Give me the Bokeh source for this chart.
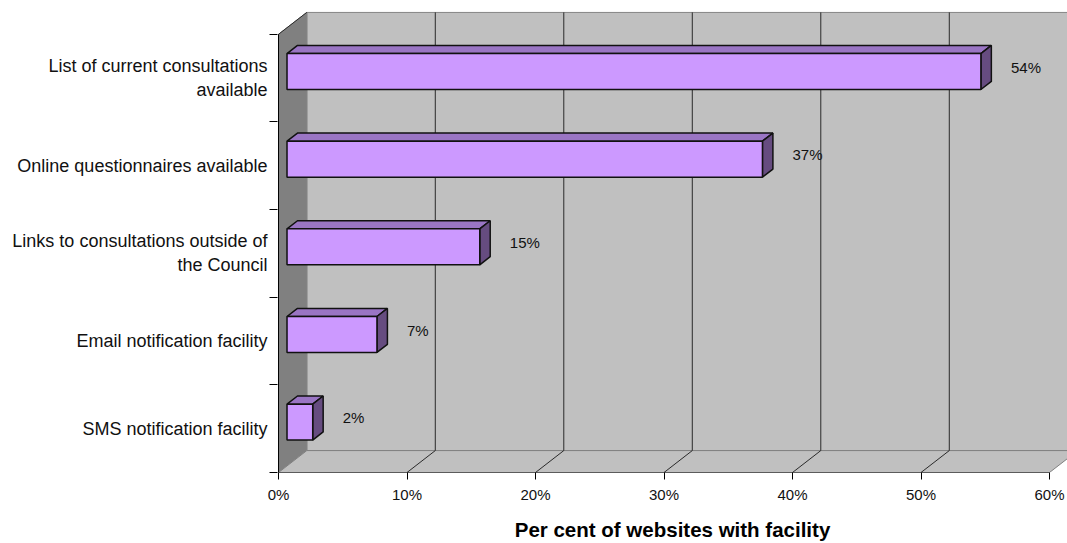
from bokeh.plotting import figure
from bokeh.models import Range1d, FixedTicker
from bokeh.core.properties import value
from bokeh.embed import file_html
from bokeh.resources import INLINE

# ---- data ----
categories = [
    "List of current consultations available",
    "Online questionnaires available",
    "Links to consultations outside of the Council",
    "Email notification facility",
    "SMS notification facility",
]
category_labels = [
    "List of current consultations\navailable",
    "Online questionnaires available",
    "Links to consultations outside of\nthe Council",
    "Email notification facility",
    "SMS notification facility",
]
values = [54, 37, 15, 7, 2]
value_labels = ["54%", "37%", "15%", "7%", "2%"]
x_ticks = [0, 10, 20, 30, 40, 50, 60]
x_tick_labels = ["0%", "10%", "20%", "30%", "40%", "50%", "60%"]
x_title = "Per cent of websites with facility"

# ---- style ----
FONT = "Liberation Sans"
DX, DY = 2.2, 0.25          # 3-D depth offset (x in %, y in category bands)
F0, F1 = 0.3, 0.67          # bar front/back depth fractions
BAR_H = 0.41
LABEL_GAP = 3.0
WALL = "#C0C0C0"
SIDE_WALL = "#808080"
GRID = "#2a2a2a"
BAR_FRONT = "#CC99FF"
BAR_TOP = "#9A75C4"
BAR_SIDE = "#664C80"
OUTLINE = "#111111"

n = len(categories)
xmax = x_ticks[-1]

p = figure(width=1067, height=543, output_backend="svg", toolbar_location=None,
           x_range=Range1d(-0.08, 61.4), y_range=Range1d(0, n + 0.26),
           min_border_left=277, min_border_right=0, min_border_top=11,
           min_border_bottom=70)
p.outline_line_color = None
p.xgrid.grid_line_color = None
p.ygrid.grid_line_color = None
p.background_fill_color = "white"
p.border_fill_color = "white"

# back wall
p.quad(left=DX, right=xmax + DX, bottom=DY, top=n + DY,
       fill_color=WALL, line_color=SIDE_WALL, line_width=1)
# left wall
p.patch(x=[0, DX, DX, 0], y=[0, DY, n + DY, n],
        fill_color=SIDE_WALL, line_color=SIDE_WALL, line_width=1)
p.segment(x0=[0], y0=[n], x1=[DX], y1=[n + DY], line_color=GRID, line_width=1)
# floor
p.patch(x=[0, xmax, xmax + DX, DX], y=[0, 0, DY, DY],
        fill_color=WALL, line_color=SIDE_WALL, line_width=1)

# back-wall gridlines
gx = [t + DX for t in x_ticks[1:]]
p.segment(x0=gx, y0=[DY] * len(gx), x1=gx, y1=[n + DY] * len(gx),
          line_color=GRID, line_width=1)
# floor diagonals
fx = x_ticks[1:-1]
p.segment(x0=fx, y0=[0] * len(fx), x1=[t + DX for t in fx], y1=[DY] * len(fx),
          line_color=GRID, line_width=1)
# front axis lines
p.segment(x0=[0, 0], y0=[0, 0], x1=[xmax, 0], y1=[0, n],
          line_color="black", line_width=1)

# bars
ox0, oy0 = F0 * DX, F0 * DY
ox1, oy1 = F1 * DX, F1 * DY
yc = [(n - 1 - i) + 0.5 for i in range(n)]
top_xs, top_ys, side_xs, side_ys = [], [], [], []
for v, c in zip(values, yc):
    yb0, yt0 = c - BAR_H / 2 + oy0, c + BAR_H / 2 + oy0
    yb1, yt1 = c - BAR_H / 2 + oy1, c + BAR_H / 2 + oy1
    top_xs.append([ox0, v + ox0, v + ox1, ox1])
    top_ys.append([yt0, yt0, yt1, yt1])
    side_xs.append([v + ox0, v + ox1, v + ox1, v + ox0])
    side_ys.append([yb0, yb1, yt1, yt0])
p.patches(xs=top_xs, ys=top_ys, fill_color=BAR_TOP, line_color=OUTLINE, line_width=1.5)
p.patches(xs=side_xs, ys=side_ys, fill_color=BAR_SIDE, line_color=OUTLINE, line_width=1.5)
p.quad(left=[ox0] * n, right=[v + ox0 for v in values],
       bottom=[c - BAR_H / 2 + oy0 for c in yc], top=[c + BAR_H / 2 + oy0 for c in yc],
       fill_color=BAR_FRONT, line_color=OUTLINE, line_width=1.5)

# value labels
p.text(x=[v + LABEL_GAP for v in values], y=[c + DY * 0.5 for c in yc], text=value_labels,
       text_font=value(FONT), text_font_size="15px", text_color="#111111",
       text_align="left", text_baseline="middle")

# x axis
xa = p.xaxis[0]
xa.ticker = FixedTicker(ticks=x_ticks)
xa.major_label_overrides = {t: l for t, l in zip(x_ticks, x_tick_labels)}
xa.axis_line_color = None
xa.major_tick_out = 7
xa.major_tick_in = 0
xa.major_tick_line_color = "black"
xa.minor_tick_line_color = None
xa.major_label_standoff = 6
xa.major_label_text_font = FONT
xa.major_label_text_font_size = "15px"
xa.major_label_text_color = "#111111"
xa.axis_label = x_title
xa.axis_label_text_font = FONT
xa.axis_label_text_font_size = "20.5px"
xa.axis_label_text_font_style = "bold"
xa.axis_label_text_color = "black"
xa.axis_label_standoff = 12

# y axis
ya = p.yaxis[0]
ya.ticker = FixedTicker(ticks=yc, minor_ticks=list(range(n + 1)))
ya.major_label_overrides = {c: l for c, l in zip(yc, category_labels)}
ya.axis_line_color = None
ya.major_tick_out = 0
ya.major_tick_in = 0
ya.major_tick_line_color = None
ya.minor_tick_out = 8
ya.minor_tick_in = 0
ya.minor_tick_line_color = "black"
ya.major_label_standoff = 2
ya.major_label_text_font = FONT
ya.major_label_text_font_size = "18px"
ya.major_label_text_color = "#111111"

open("out.html", "w").write(file_html(p, INLINE))
